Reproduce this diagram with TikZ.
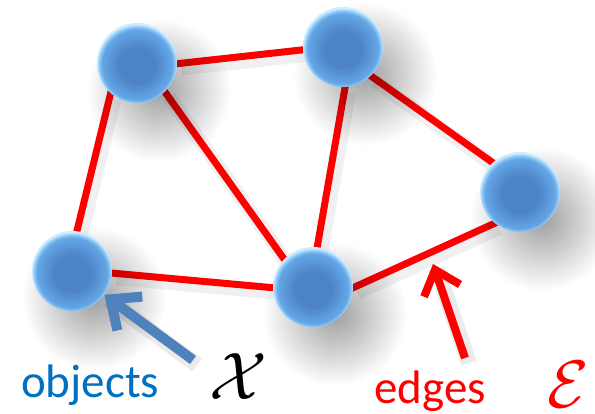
\documentclass[tikz,border=0pt]{standalone}
\usepackage{fontspec}
\newfontfamily\calibri{Carlito}
\usetikzlibrary{arrows.meta,fadings}
\definecolor{edgered}{RGB}{255,0,0}
\definecolor{objblue}{RGB}{0,112,192}
\definecolor{arrblue}{RGB}{79,129,189}
\definecolor{sphmid}{RGB}{76,132,198}
\definecolor{sphout}{RGB}{100,166,230}
\definecolor{sphrim}{RGB}{160,215,252}
\pgfdeclareradialshading{sphere}{\pgfpoint{0bp}{-2bp}}{color(0bp)=(sphmid); color(11bp)=(sphmid); color(22bp)=(sphout); color(24.4bp)=(sphrim); color(25bp)=(sphrim!50!white); color(50bp)=(white)}
\tikzfading[name=shadowfade, inner color=transparent!62, outer color=transparent!100]
\pgfdeclarelayer{edgelayer}
\pgfdeclarelayer{shadowlayer}
\pgfsetlayers{edgelayer,shadowlayer,main}
\begin{document}
\begin{tikzpicture}[x=1pt,y=-1pt,
  sphere/.style={circle, minimum size=80pt, inner sep=0pt, shading=sphere},
  sphereshadow/.style={fill=black, path fading=shadowfade},
  graphedge/.style={draw=edgered, line width=7pt, shorten <=-4pt, shorten >=-4pt},
  edgeshadow/.style={draw=black, opacity=0.06, line width=14pt, transform canvas={shift={(4pt,-5pt)}}},
  bluearrow/.style={draw=arrblue, line width=10pt, -{Straight Barb[length=24pt,width=42pt]}},
  redarrow/.style={draw=edgered, line width=8pt, -{Straight Barb[length=22pt,width=38pt]}},
  arrowshadow/.style={draw=black, opacity=0.08, line width=16pt, transform canvas={shift={(4pt,-5pt)}}},
  label/.style={font=\calibri\fontsize{47}{56}\selectfont, inner sep=0pt},
  setsym/.style={inner sep=0pt, scale=2.7}
]
\useasboundingbox (0,0) rectangle (595,414);

\node[sphere] (A) at (137,63) {};
\node[sphere] (B) at (343,47) {};
\node[sphere] (C) at (520,192) {};
\node[sphere] (D) at (72,271) {};
\node[sphere] (E) at (313,287) {};

\begin{pgfonlayer}{shadowlayer}
  \foreach \n in {A,B,C,D,E}{
    \fill[sphereshadow] ([shift={(22,27)}]\n.center) circle (72);
  }
\end{pgfonlayer}

\begin{pgfonlayer}{edgelayer}
  \foreach \p/\q in {A.-1/B.184, A.229/D.83, A.-46/E.136, B.-87/E.84, B.-46/C.133, E.-1/C.231, D.-3/E.181}{
    \draw[edgeshadow] (\p) -- (\q);
  }
  \foreach \p/\q in {A.-1/B.184, A.229/D.83, A.-46/E.136, B.-87/E.84, B.-46/C.133, E.-1/C.231, D.-3/E.181}{
    \draw[graphedge] (\p) -- (\q);
  }
\end{pgfonlayer}

\coordinate (objtail) at (193,360);
\coordinate (edgetail) at (465,358);
\coordinate (edgetip) at (433,264);

\draw[arrowshadow] (objtail) -- (D);
\draw[bluearrow] (objtail) -- (D);
\draw[arrowshadow] (edgetail) -- (edgetip);
\draw[redarrow] (edgetail) -- (edgetip);

\node[label, text=objblue, anchor=base west] (objlbl) at (21,398) {objects};
\node[label, text=edgered, anchor=base west] (edgelbl) at (374,403) {edges};
\node[setsym] (Xsym) at (238,377) {\Huge$\mathcal{X}$};
\node[setsym, text=edgered] (Esym) at (568,385) {\Huge$\mathcal{E}$};
\end{tikzpicture}
\end{document}
